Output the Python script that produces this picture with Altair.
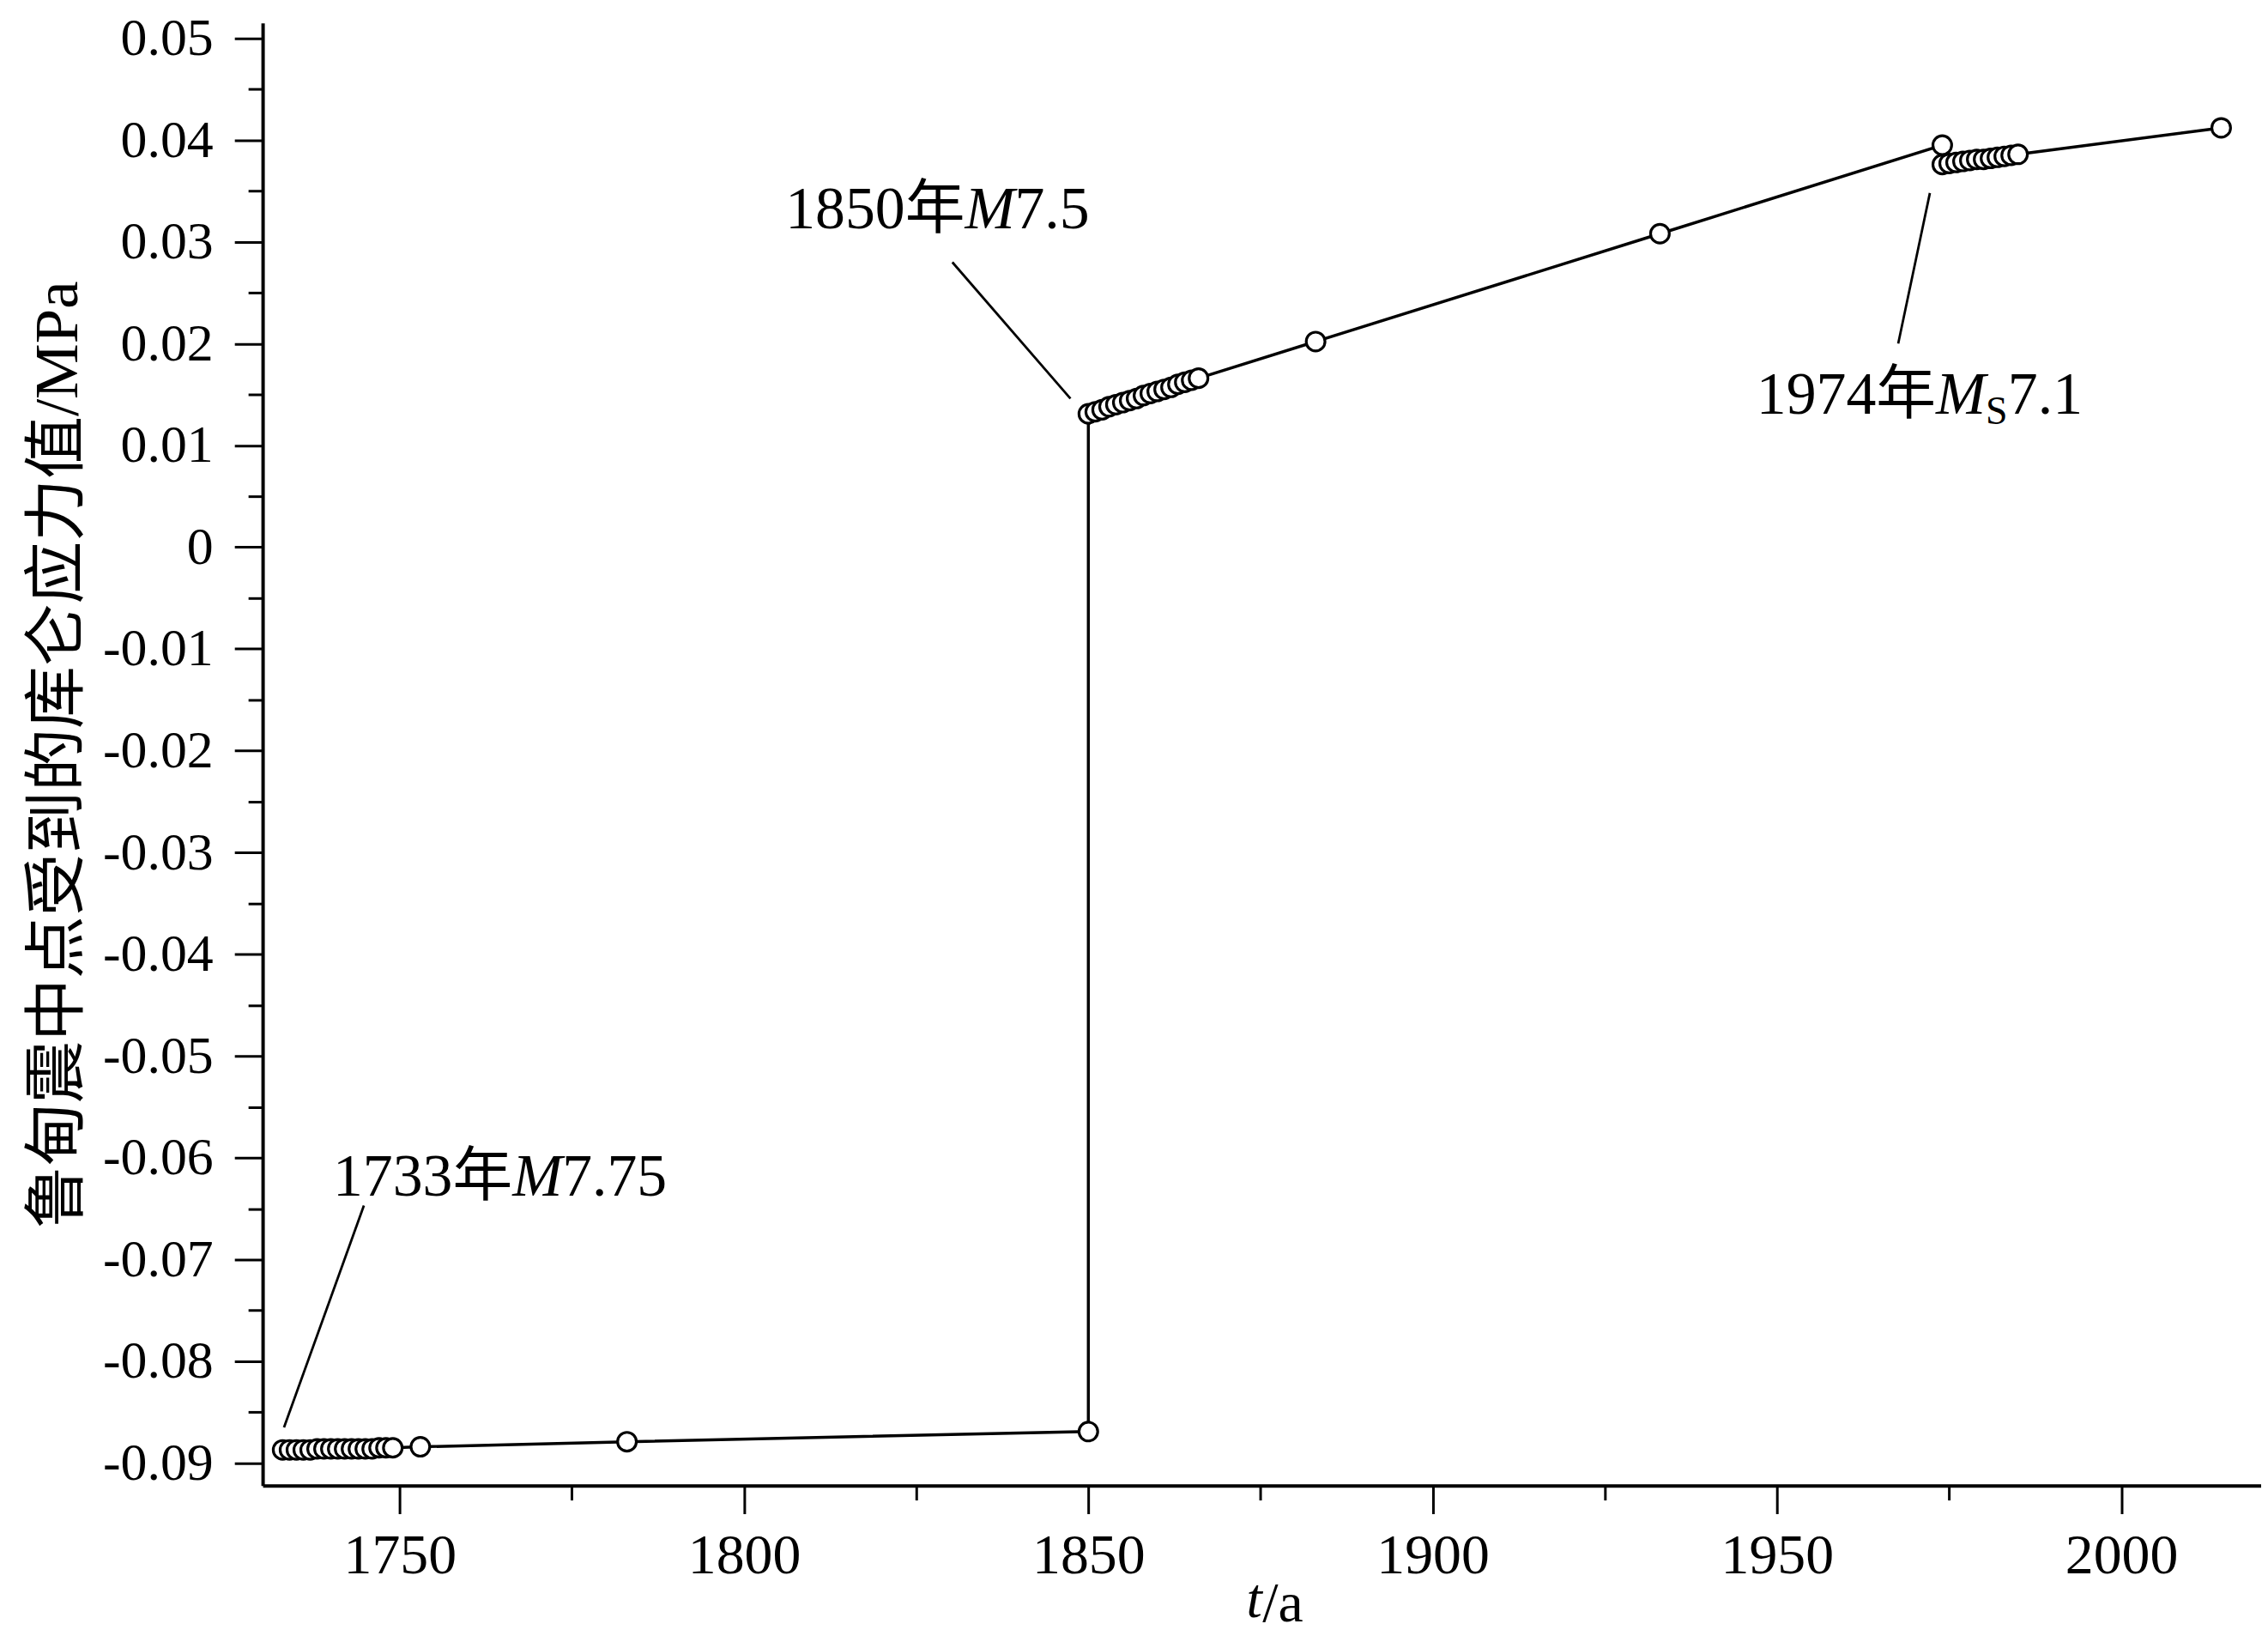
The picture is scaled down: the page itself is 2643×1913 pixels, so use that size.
import altair as alt
import pandas as pd

# ---- data ----
years = [1733, 1734, 1735, 1736, 1737, 1738, 1739, 1740, 1741, 1742, 1743, 1744,
         1745, 1746, 1747, 1748, 1749, 1753, 1783, 1850,
         1850, 1851, 1852, 1853, 1854, 1855, 1856, 1857, 1858, 1859, 1860, 1861,
         1862, 1863, 1864, 1865, 1866, 1883, 1933, 1974,
         1974, 1975, 1976, 1977, 1978, 1979, 1980, 1981, 1982, 1983, 1984, 1985,
         2014.5]
stress = [-0.0887, -0.0887, -0.0887, -0.0887, -0.0887, -0.0886, -0.0886, -0.0886,
          -0.0886, -0.0886, -0.0886, -0.0886, -0.0886, -0.0886, -0.0885, -0.0885,
          -0.0885, -0.0884, -0.0879, -0.0869,
          0.0131, 0.0133, 0.0135, 0.0138, 0.0140, 0.0142, 0.0144, 0.0146, 0.0149,
          0.0151, 0.0153, 0.0155, 0.0157, 0.0160, 0.0162, 0.0164, 0.0166,
          0.0202, 0.0308, 0.0395,
          0.0376, 0.0377, 0.0378, 0.0379, 0.0380, 0.0381, 0.0381, 0.0382, 0.0383,
          0.0384, 0.0385, 0.0386, 0.0412]

x_ticks = [1750, 1775, 1800, 1825, 1850, 1875, 1900, 1925, 1950, 1975, 2000]
y_ticks = [-0.09, -0.085, -0.08, -0.075, -0.07, -0.065, -0.06, -0.055, -0.05,
           -0.045, -0.04, -0.035, -0.03, -0.025, -0.02, -0.015, -0.01, -0.005,
           0.0, 0.005, 0.01, 0.015, 0.02, 0.025, 0.03, 0.035, 0.04, 0.045, 0.05]

anno_year = ["1733年", "1850年", "1974年"]
anno_mag = ["7.75", "7.5", "7.1"]
anno_x = [1740.3, 1806.0, 1947.0]
anno_y = [-0.0637, 0.0313, 0.0131]

leader_x1 = [1744.8, 1830.25, 1967.6]
leader_y1 = [-0.0647, 0.0280, 0.0200]
leader_x2 = [1733.2, 1847.4, 1972.2]
leader_y2 = [-0.0865, 0.0146, 0.0348]

# ---- tables ----
df = pd.DataFrame({"year": years, "stress": stress, "idx": list(range(len(years)))})
anno = pd.DataFrame({"year": anno_x, "stress": anno_y, "yr": anno_year, "mag": anno_mag,
                     "M": ["M", "M", "M"]})
lead = pd.DataFrame({"year": leader_x1, "stress": leader_y1, "x2": leader_x2, "y2": leader_y2})

SERIF = "Liberation Serif"
MIX = "Liberation Serif, Noto Sans CJK SC"

xscale = alt.Scale(domain=[1730.1, 2020.3], nice=False, zero=False)
yscale = alt.Scale(domain=[-0.0922, 0.0515], nice=False, zero=False)

xaxis = alt.Axis(
    values=x_ticks, title="/a",
    labelExpr="datum.value % 50 === 0 ? '' + datum.value : ''",
    tickSize={"condition": {"test": "datum.value % 50 === 0", "value": 33}, "value": 17},
    labelPadding=17, labelBaseline="top", labelFlush=False, labelFontSize=66,
    titleX=1192, titleY=158, titleBaseline="alphabetic",
    titleAlign="center", titleFontSize=66, titleFont=SERIF,
)
yaxis = alt.Axis(
    values=y_ticks, title="鲁甸震中点受到的库仑应力值/MPa",
    labelExpr="abs(round(datum.value*1000)) % 10 === 0 ? '' + (round(datum.value*100)/100) : ''",
    tickSize={"condition": {"test": "abs(round(datum.value*1000)) % 10 === 0", "value": 33}, "value": 17},
    labelPadding=25, labelFlush=False, labelFontSize=62,
    titleX=-202, titleFontSize=73,
)

X = alt.X("year:Q", scale=xscale, axis=xaxis)
Y = alt.Y("stress:Q", scale=yscale, axis=yaxis)

base = alt.Chart(df)
line = base.mark_line(color="black", strokeWidth=3.5).encode(x=X, y=Y, order=alt.Order("idx:Q"))
pts = base.mark_point(shape="circle", filled=True, fill="white", stroke="black",
                      strokeWidth=3.2, size=480, opacity=1).encode(x=X, y=Y)

rules = alt.Chart(lead).mark_rule(color="black", strokeWidth=2.8).encode(
    x=X, y=Y, x2="x2:Q", y2="y2:Q")

ac = alt.Chart(anno)
t_year = ac.mark_text(align="left", baseline="alphabetic", font=MIX, fontSize=70,
                      color="black").encode(x=X, y=Y, text="yr:N")
t_m = ac.mark_text(align="left", baseline="alphabetic", font=SERIF, fontSize=70,
                   fontStyle="italic", color="black", dx=210).encode(x=X, y=Y, text="M:N")
t_mag_ab = ac.transform_filter("datum.yr != '1974年'").mark_text(
    align="left", baseline="alphabetic", font=SERIF, fontSize=70, color="black",
    dx=268).encode(x=X, y=Y, text="mag:N")
t_sub = ac.transform_filter("datum.yr == '1974年'").transform_calculate(s="'S'").mark_text(
    align="left", baseline="alphabetic", font=SERIF, fontSize=46, color="black",
    dx=268, dy=12).encode(x=X, y=Y, text="s:N")
t_mag_c = ac.transform_filter("datum.yr == '1974年'").mark_text(
    align="left", baseline="alphabetic", font=SERIF, fontSize=70, color="black",
    dx=294).encode(x=X, y=Y, text="mag:N")

chart = alt.layer(line, rules, pts, t_year, t_m, t_mag_ab, t_sub, t_mag_c).properties(
    title=alt.TitleParams(text="t", orient="bottom", anchor="middle", font=SERIF,
                          fontSize=66, fontStyle="italic", fontWeight="normal",
                          color="black", baseline="alphabetic", dx=-9, offset=-17),
    width=2336, height=1709,
    padding={"left": 299, "top": 16, "right": 0, "bottom": 172},
    autosize=alt.AutoSizeParams(type="none"),
).configure_view(stroke=None).configure_axis(
    grid=False, domainColor="black", domainWidth=4, tickColor="black", tickWidth=3,
    labelFont=SERIF, labelColor="black",
    titleFont=MIX, titleColor="black", titleFontWeight="normal",
)

chart.save("out.html", embed_options={"renderer": "svg", "actions": False})
